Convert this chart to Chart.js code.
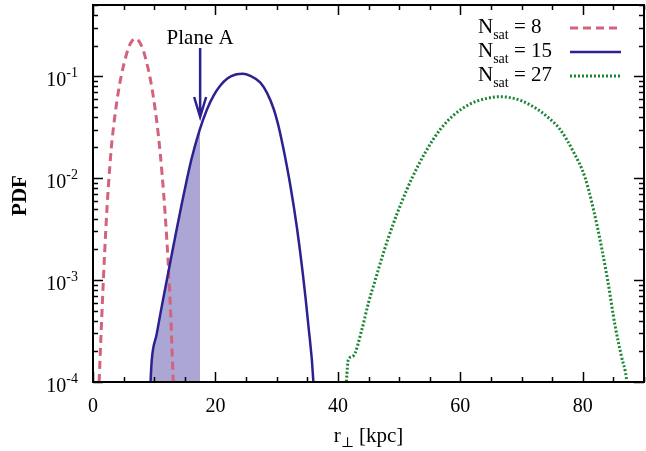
<!DOCTYPE html>
<html lang="en">
<head>
<meta charset="UTF-8">
<title>PDF of r_perp</title>
<script src="https://cdn.jsdelivr.net/npm/chart.js@4.4.1/dist/chart.umd.min.js"></script>
<style>
    html, body { margin: 0; padding: 0; background: #fff; }
    canvas { display: block; }
</style>
</head>
<body>
<canvas id="pdfChart" width="646" height="451"></canvas>
<script>
// values
const r8   = [1.0, 1.3, 1.7, 2.1, 2.5, 3.0, 3.5, 4.1, 4.7, 5.3, 5.8, 6.3, 6.9, 7.5, 8.2, 8.7, 9.2, 9.7, 10.1, 10.7, 11.3, 11.8, 12.3, 12.7, 13.1, 13.2];
const pdf8 = [1.0e-4, 2.8e-4, 1.02e-3, 3.2e-3, 8.1e-3, 2.0e-2, 3.76e-2, 6.8e-2, 0.107, 0.151, 0.190, 0.219, 0.234, 0.221, 0.180, 0.141, 0.105, 0.072, 0.050, 0.0257, 0.0107, 4.3e-3, 1.4e-3, 4.5e-4, 1.0e-4, 7e-5];

const r15   = [9.3, 9.4, 9.6, 10.4, 11.2, 11.8, 12.6, 13.5, 14.5, 15.3, 16.1, 17.4, 18.6, 19.7, 20.8, 22.0, 23.3, 24.5, 25.7, 27.3, 28.4, 29.5, 30.3, 31.1, 32.2, 33.3, 34.3, 35.2, 36.0, 36.1];
const pdf15 = [7e-5, 1.0e-4, 1.65e-4, 2.95e-4, 5.4e-4, 8.3e-4, 1.48e-3, 2.8e-3, 5.6e-3, 9.5e-3, 1.55e-2, 2.95e-2, 4.7e-2, 6.45e-2, 8.1e-2, 9.55e-2, 0.104, 0.106, 0.101, 0.087, 0.069, 0.048, 0.0324, 0.0195, 8.7e-3, 3.3e-3, 1.12e-3, 3.5e-4, 1.0e-4, 7e-5];

const r27   = [41.3, 41.4, 41.7, 42.5, 43.9, 45.0, 46.1, 47.5, 49.0, 50.5, 52.1, 54.3, 56.7, 59.0, 61.5, 64.0, 66.5, 69.0, 71.5, 74.0, 76.3, 78.5, 80.4, 82.3, 84.0, 85.3, 86.3, 87.2, 87.4];
const pdf27 = [7e-5, 1.0e-4, 1.65e-4, 1.8e-4, 3.25e-4, 6.0e-4, 1.0e-3, 1.9e-3, 3.5e-3, 6.0e-3, 1.0e-2, 1.8e-2, 3.0e-2, 4.2e-2, 5.3e-2, 6.0e-2, 6.3e-2, 6.0e-2, 5.2e-2, 4.1e-2, 3.0e-2, 1.8e-2, 1.0e-2, 3.5e-3, 1.05e-3, 3.5e-4, 1.8e-4, 1.0e-4, 7e-5];

// shaded part of the N=15 curve, up to plane A
const planeA = 17.5;
const planeApdf = 0.0305;

const xTicks = [0, 20, 40, 60, 80];
const yTicks = [1e-4, 1e-3, 1e-2, 1e-1];
const yTickExp = ['-4', '-3', '-2', '-1'];
const legendN = ['8', '15', '27'];

const RED = '#d4627c';
const BLUE = '#2b2190';
const GREEN = '#1c8434';
const SHADE = '#aca6d5';
const SERIF = "'Liberation Serif', 'DejaVu Serif', serif";

function pts(xs, ys) {
    return xs.map((x, i) => ({ x: x, y: ys[i] }));
}

let shadeX = [], shadeY = [];
r15.forEach((x, i) => { if (x <= planeA) { shadeX.push(x); shadeY.push(pdf15[i]); } });
shadeX.push(planeA);
shadeY.push(planeApdf);

// frame, inward ticks, labels, legend and the arrow, gnuplot style
const decorations = {
    id: 'decorations',
    afterDraw(chart) {
        const ctx = chart.ctx;
        const a = chart.chartArea;
        const xs = chart.scales.x, ys = chart.scales.y;
        ctx.save();
        ctx.strokeStyle = '#000';
        ctx.fillStyle = '#000';

        // ticks
        ctx.lineWidth = 1.5;
        ctx.beginPath();
        for (let v = 0; v <= 90; v += 5) {
            const px = Math.round(xs.getPixelForValue(v)) + 0.5;
            const len = (v % 20 === 0) ? 10 : 5;
            ctx.moveTo(px, a.bottom); ctx.lineTo(px, a.bottom - len);
            ctx.moveTo(px, a.top); ctx.lineTo(px, a.top + len);
        }
        for (let d = -4; d <= -1; d++) {
            for (let m = 1; m <= 9; m++) {
                const v = m * Math.pow(10, d);
                if (v > 0.5) continue;
                const py = Math.round(ys.getPixelForValue(v)) + 0.5;
                const len = (m === 1) ? 10 : 5;
                ctx.moveTo(a.left, py); ctx.lineTo(a.left + len, py);
                ctx.moveTo(a.right, py); ctx.lineTo(a.right - len, py);
            }
        }
        ctx.stroke();

        // frame
        ctx.lineWidth = 2;
        ctx.strokeRect(a.left, a.top, a.right - a.left, a.bottom - a.top);

        // x tick labels
        ctx.font = '20px ' + SERIF;
        ctx.textAlign = 'center';
        ctx.textBaseline = 'alphabetic';
        xTicks.forEach(v => {
            ctx.fillText(String(v), xs.getPixelForValue(v), a.bottom + 30);
        });

        // y tick labels 10^n
        yTicks.forEach((v, i) => {
            const py = ys.getPixelForValue(v);
            ctx.font = '14px ' + SERIF;
            const ew = ctx.measureText(yTickExp[i]).width;
            ctx.textAlign = 'left';
            ctx.fillText(yTickExp[i], a.left - 15 - ew, py + 1);
            ctx.font = '20px ' + SERIF;
            ctx.textAlign = 'right';
            ctx.fillText('10', a.left - 15 - ew, py + 10);
        });

        // axis titles
        ctx.save();
        ctx.translate(19, (a.top + a.bottom) / 2 + 2);
        ctx.rotate(-Math.PI / 2);
        ctx.font = 'bold 21px ' + SERIF;
        ctx.textAlign = 'center';
        ctx.fillText('PDF', 0, 7);
        ctx.restore();

        ctx.textAlign = 'left';
        ctx.font = '21px ' + SERIF;
        const wR = ctx.measureText('r').width;
        const wRest = ctx.measureText(' [kpc]').width;
        ctx.font = '14px ' + SERIF;
        const wSub = ctx.measureText('\u22a5').width;
        let tx = (a.left + a.right) / 2 - (wR + wSub + wRest) / 2;
        const tb = 442;
        ctx.font = '21px ' + SERIF;
        ctx.fillText('r', tx, tb);
        ctx.font = '14px ' + SERIF;
        ctx.fillText('\u22a5', tx + wR, tb + 5);
        ctx.font = '21px ' + SERIF;
        ctx.fillText(' [kpc]', tx + wR + wSub, tb);

        // legend
        const styles = [
            { c: RED, dash: [8, 5], w: 3 },
            { c: BLUE, dash: [], w: 2.5 },
            { c: GREEN, dash: [2, 2], w: 3 }
        ];
        legendN.forEach((n, i) => {
            const base = 33 + 24 * i;
            let lx = 478;
            ctx.fillStyle = '#000';
            ctx.font = '21px ' + SERIF;
            ctx.fillText('N', lx, base);
            lx += ctx.measureText('N').width;
            ctx.font = '14px ' + SERIF;
            ctx.fillText('sat', lx, base + 6);
            lx += ctx.measureText('sat').width;
            ctx.font = '21px ' + SERIF;
            ctx.fillText(' = ' + n, lx, base);

            ctx.strokeStyle = styles[i].c;
            ctx.lineWidth = styles[i].w;
            ctx.setLineDash(styles[i].dash);
            ctx.beginPath();
            ctx.moveTo(570, base - 5);
            ctx.lineTo(621, base - 5);
            ctx.stroke();
            ctx.setLineDash([]);
        });

        // plane A arrow
        const ax = xs.getPixelForValue(planeA);
        ctx.fillStyle = '#000';
        ctx.font = '21px ' + SERIF;
        ctx.textAlign = 'center';
        ctx.fillText('Plane A', ax, 44);
        ctx.strokeStyle = BLUE;
        ctx.lineWidth = 2.5;
        ctx.beginPath();
        ctx.moveTo(ax, 48);
        ctx.lineTo(ax, 117);
        ctx.moveTo(ax - 6, 97);
        ctx.lineTo(ax, 117);
        ctx.lineTo(ax + 6, 97);
        ctx.stroke();

        ctx.restore();
    }
};

const ctx = document.getElementById('pdfChart').getContext('2d');
const pdfChart = new Chart(ctx, {
    type: 'scatter',
    data: {
        datasets: [
            {
                label: 'shade',
                data: pts(shadeX, shadeY),
                showLine: true,
                fill: 'start',
                backgroundColor: SHADE,
                borderWidth: 0,
                pointRadius: 0,
                order: 10 // drawn underneath everything
            },
            {
                label: 'N_sat = 8',
                data: pts(r8, pdf8),
                showLine: true,
                borderColor: RED,
                borderWidth: 3,
                borderDash: [8, 5],
                pointRadius: 0,
                order: 3
            },
            {
                label: 'N_sat = 15',
                data: pts(r15, pdf15),
                showLine: true,
                borderColor: BLUE,
                borderWidth: 2.5,
                pointRadius: 0,
                order: 1
            },
            {
                label: 'N_sat = 27',
                data: pts(r27, pdf27),
                showLine: true,
                borderColor: GREEN,
                borderWidth: 3,
                borderDash: [2, 2],
                pointRadius: 0,
                order: 2
            }
        ]
    },
    options: {
        responsive: false,
        animation: false,
        elements: { line: { cubicInterpolationMode: 'monotone' } },
        layout: { padding: { left: 93, right: 2, top: 5, bottom: 69 } },
        plugins: {
            legend: { display: false },
            tooltip: { enabled: false }
        },
        scales: {
            x: { type: 'linear', min: 0, max: 90, display: false },
            y: { type: 'logarithmic', min: 1e-4, max: 0.5, display: false }
        }
    },
    plugins: [decorations]
});
</script>
</body>
</html>
